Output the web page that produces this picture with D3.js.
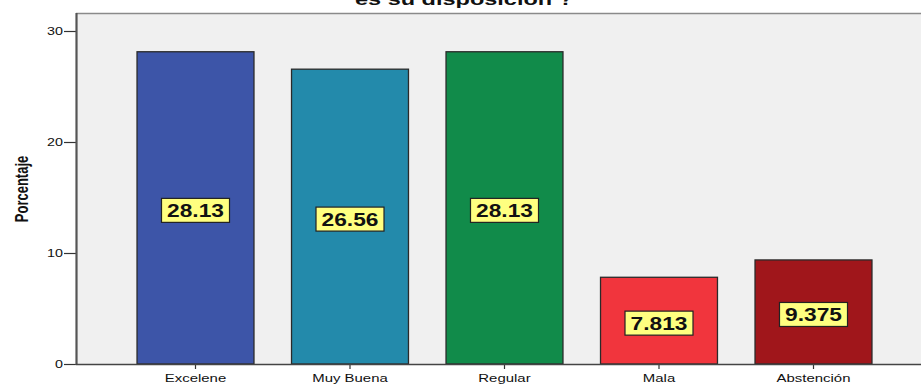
<!DOCTYPE html>
<html><head><meta charset="utf-8">
<script src="https://cdn.jsdelivr.net/npm/d3@7"></script>
<style>body{margin:0;background:#fff}svg{display:block}text{font-family:"Liberation Sans",Arial,sans-serif}</style>
</head><body>
<svg id="c" width="921" height="384"></svg>
<script>
const categories = ["Excelene","Muy Buena","Regular","Mala","Abstención"];
const values = [28.13, 26.56, 28.13, 7.813, 9.375];
const valueLabels = ["28.13","26.56","28.13","7.813","9.375"];
const barColors = ["#3d55a8","#238aab","#118b4a","#f1353d","#a0161b"];
const yTicks = [0, 10, 20, 30];
const titleText = "es su disposición ?";
const yTitle = "Porcentaje";

const svg = d3.select("#c");
const SX = 1.3;
const plot = {left:76, top:13, right:921, bottom:364};

const x = d3.scaleBand().domain(categories).range([76, 933]).paddingInner(0.243).paddingOuter(0.395);
const y = d3.scaleLinear().domain([0, 30]).range([364, 31]);

svg.append("rect").attr("x", plot.left).attr("y", plot.top)
  .attr("width", plot.right - plot.left).attr("height", plot.bottom - plot.top).attr("fill", "#f0f0f0");
svg.append("line").attr("x1", plot.left).attr("x2", plot.right).attr("y1", plot.top+0.5).attr("y2", plot.top+0.5)
  .attr("stroke", "#8a8a8a").attr("stroke-width", 1.5);

function stext(g, x0, y0, str, size, weight, anchor, extra) {
  const t = g.append("text").attr("transform", `translate(${x0},${y0}) scale(${SX},1)` + (extra||""))
    .attr("font-size", size).attr("font-weight", weight).attr("text-anchor", anchor).attr("fill", "#111").text(str);
  return t;
}

// bars
svg.selectAll("rect.bar").data(values).enter().append("rect").attr("class","bar")
  .attr("x", (d,i) => x(categories[i])).attr("width", x.bandwidth())
  .attr("y", d => y(d)).attr("height", d => y(0) - y(d))
  .attr("fill", (d,i) => barColors[i]).attr("stroke", "#2a2a2a").attr("stroke-width", 1.3);

// value labels
values.forEach((v,i) => {
  const cx = x(categories[i]) + x.bandwidth()/2;
  const cy = y(v/2) + 2.5;
  svg.append("rect").attr("x", cx - 34).attr("y", cy - 12).attr("width", 68).attr("height", 24)
    .attr("fill", "#ffff80").attr("stroke", "#222").attr("stroke-width", 1.2);
  stext(svg, cx, cy + 6.5, valueLabels[i], 17.5, "bold", "middle");
});

// y axis
const yAxis = d3.axisLeft(y).tickValues(yTicks).tickSize(12).tickPadding(2).tickFormat(d3.format("d"));
const ga = svg.append("g").attr("transform", `translate(${plot.left},0)`).call(yAxis);
ga.select(".domain").remove();
ga.selectAll(".tick line").attr("stroke", "#333").attr("stroke-width", 1.2);
ga.selectAll(".tick text").remove();
yTicks.forEach(t => stext(svg, 63, y(t) + 4, String(t), 11, "normal", "end"));
svg.append("line").attr("x1", plot.left + 0.5).attr("x2", plot.left + 0.5).attr("y1", plot.top).attr("y2", plot.bottom + 1)
  .attr("stroke", "#555").attr("stroke-width", 2.2);

// x axis
const xAxis = d3.axisBottom(x).tickSize(5).tickSizeOuter(0);
const gx = svg.append("g").attr("transform", `translate(0,${plot.bottom})`).call(xAxis);
gx.select(".domain").remove();
gx.selectAll(".tick line").attr("stroke", "#333").attr("stroke-width", 1.2);
gx.selectAll(".tick text").remove();
svg.append("line").attr("x1", plot.left).attr("x2", plot.right).attr("y1", plot.bottom + 0.5).attr("y2", plot.bottom + 0.5)
  .attr("stroke", "#444").attr("stroke-width", 1.5);
categories.forEach(c => stext(svg, x(c) + x.bandwidth()/2, 382, c, 11.5, "normal", "middle"));

// y title
svg.append("text").attr("transform", `translate(28,189) scale(1.45,1) rotate(-90)`)
  .attr("font-size", 13).attr("font-weight", "bold").attr("text-anchor", "middle").attr("fill", "#111").text(yTitle);

// title (clipped at top, as in the reference)
svg.append("text").attr("x", 464).attr("y", 5).attr("font-size", 17).attr("font-weight", "bold")
  .attr("text-anchor", "middle").attr("fill", "#111").attr("textLength", 218).attr("lengthAdjust", "spacingAndGlyphs").text(titleText);
</script>
</body></html>
